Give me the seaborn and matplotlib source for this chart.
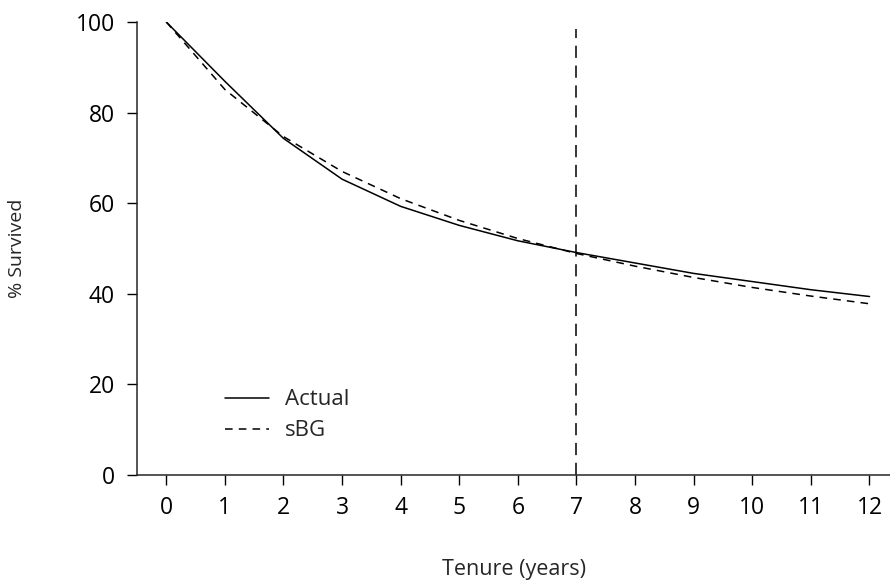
import pandas as pd
import matplotlib
matplotlib.use("Agg")
import matplotlib.pyplot as plt
import seaborn as sns

# survival curves (% survived by tenure year)
tenure = [0, 1, 2, 3, 4, 5, 6, 7, 8, 9, 10, 11, 12]
actual = [100, 86.9, 74.3, 65.3, 59.3, 55.1, 51.7, 49.1, 46.8, 44.5, 42.7, 40.9, 39.4]
sbg = [100, 85.1, 74.7, 67.0, 61.0, 56.2, 52.2, 48.9, 46.1, 43.6, 41.4, 39.5, 37.8]
cutoff = 7

df = pd.DataFrame({
    "Tenure": tenure * 2,
    "Survived": actual + sbg,
    "Series": ["Actual"] * len(tenure) + ["sBG"] * len(tenure),
})

sns.set_style("ticks")
plt.rcParams["font.family"] = ["Open Sans", "DejaVu Sans"]

fig = plt.figure(figsize=(8.9, 5.82), dpi=100)
ax = fig.add_axes([137 / 890, 1 - 475 / 582, 753 / 890, 453 / 582])

sns.lineplot(data=df, x="Tenure", y="Survived", style="Series",
             dashes={"Actual": "", "sBG": (5, 4)}, color="black",
             linewidth=1.1, ax=ax)

ax.axvline(cutoff, ymin=0, ymax=0.985, color="black", linewidth=1.1, dashes=(8, 5))

ax.set_xlim(-0.5, 12.35)
ax.set_ylim(0, 100)
ax.set_xticks(tenure)
ax.set_yticks([0, 20, 40, 60, 80, 100])
ax.tick_params(axis="both", direction="out", length=7, width=1, labelsize=16.5, colors="black")
ax.tick_params(axis="x", pad=8)
ax.tick_params(axis="y", pad=9)
for side in ["top", "right"]:
    ax.spines[side].set_visible(False)
for side in ["left", "bottom"]:
    ax.spines[side].set_linewidth(1.1)

ax.set_xlabel("Tenure (years)", fontsize=15.5, labelpad=28)
ax.set_ylabel("% Survived", fontsize=14, labelpad=36)

leg = ax.legend(loc="lower left", bbox_to_anchor=(0.09, 0.03), frameon=False,
                fontsize=16, handlelength=2.0, handletextpad=0.7, labelspacing=0.45)
leg.set_title(None)

fig.savefig("out.png", dpi=100)
